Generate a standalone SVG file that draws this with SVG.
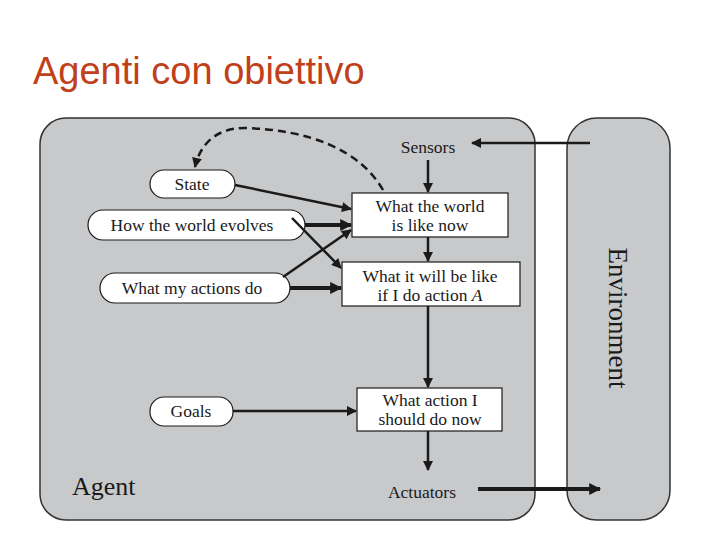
<svg xmlns="http://www.w3.org/2000/svg" width="720" height="540" viewBox="0 0 720 540">
<defs>
<marker id="ah" viewBox="0 0 10 10" refX="9" refY="5" markerWidth="5" markerHeight="4" orient="auto"><path d="M0,0 L10,5 L0,10 z" fill="#1a1a1a"/></marker>
<marker id="ahk" viewBox="0 0 10 10" refX="9" refY="5" markerWidth="4" markerHeight="3" orient="auto"><path d="M0,0 L10,5 L0,10 z" fill="#1a1a1a"/></marker>
<style>
.t{font-family:"Liberation Serif",serif;font-size:17.5px;fill:#1a1a1a;text-anchor:middle}
.ov{fill:#fff;stroke:#1a1a1a;stroke-width:1.2}
.bx{fill:#fff;stroke:#1a1a1a;stroke-width:1.2}
.c{stroke:#1a1a1a;stroke-width:2.5;fill:none}
.ck{stroke:#1a1a1a;stroke-width:4;fill:none}
</style>
</defs>
<rect width="720" height="540" fill="#fff"/>
<text x="33" y="84" font-family="Liberation Sans,sans-serif" font-size="38" fill="#c0401a">Agenti con obiettivo</text>
<g id="agent"><rect x="40" y="118" width="495" height="402" rx="26" fill="#c8c9cb" stroke="#333" stroke-width="1.5"/>
<text x="72" y="495" font-family="Liberation Serif,serif" font-size="26" fill="#1a1a1a">Agent</text></g>
<g id="environment"><rect x="567" y="118" width="103" height="402" rx="30" fill="#c8c9cb" stroke="#333" stroke-width="1.5"/>
<text transform="translate(609,318) rotate(90)" font-family="Liberation Serif,serif" font-size="27" fill="#1a1a1a" text-anchor="middle">Environment</text></g>
<g id="sensors"><text class="t" x="428" y="153">Sensors</text></g>
<g id="actuators"><text class="t" x="422" y="498">Actuators</text></g>
<g id="state"><rect class="ov" x="150" y="170" width="85" height="28" rx="14"/><text class="t" x="192" y="190">State</text></g>
<g id="how"><rect class="ov" x="88" y="210" width="217" height="30" rx="15"/><text class="t" x="192" y="231">How the world evolves</text></g>
<g id="actions"><rect class="ov" x="100" y="273" width="190" height="30" rx="15"/><text class="t" x="192" y="294">What my actions do</text></g>
<g id="goals"><rect class="ov" x="150" y="397" width="83" height="29" rx="14"/><text class="t" x="191" y="417">Goals</text></g>
<g id="world"><rect class="bx" x="352" y="193" width="156" height="44"/><text class="t" x="430" y="212">What the world</text><text class="t" x="430" y="231">is like now</text></g>
<g id="willbe"><rect class="bx" x="342" y="262" width="178" height="44"/><text class="t" x="430" y="282">What it will be like</text><text class="t" x="430" y="301">if I do action <tspan font-style="italic">A</tspan></text></g>
<g id="decide"><rect class="bx" x="357" y="388" width="145" height="43"/><text class="t" x="430" y="406">What action I</text><text class="t" x="430" y="425">should do now</text></g>
<g id="connectors">
<path class="c" d="M590,143 L472,143" marker-end="url(#ah)"/>
<path class="c" d="M428,160 L428,192" marker-end="url(#ah)"/>
<path class="c" d="M235,185 L351,209" marker-end="url(#ah)"/>
<path class="ck" d="M305,225 L351,225" marker-end="url(#ahk)"/>
<path class="c" d="M292,218 L341,268" marker-end="url(#ah)"/>
<path class="c" d="M283,277 L351,230" marker-end="url(#ah)"/>
<path class="ck" d="M290,288 L341,288" marker-end="url(#ahk)"/>
<path class="c" d="M428,237 L428,261" marker-end="url(#ah)"/>
<path class="c" d="M428,306 L428,387" marker-end="url(#ah)"/>
<path class="c" d="M233,411 L356,411" marker-end="url(#ah)"/>
<path class="c" d="M428,431 L428,470" marker-end="url(#ah)"/>
<path class="ck" d="M478,489 L600,489" marker-end="url(#ahk)"/>
<path class="c" stroke-dasharray="8,5" d="M383,190 C360,150 310,130 245,128 C215,128 200,145 195,167" marker-end="url(#ah)"/>
</g>
</svg>
